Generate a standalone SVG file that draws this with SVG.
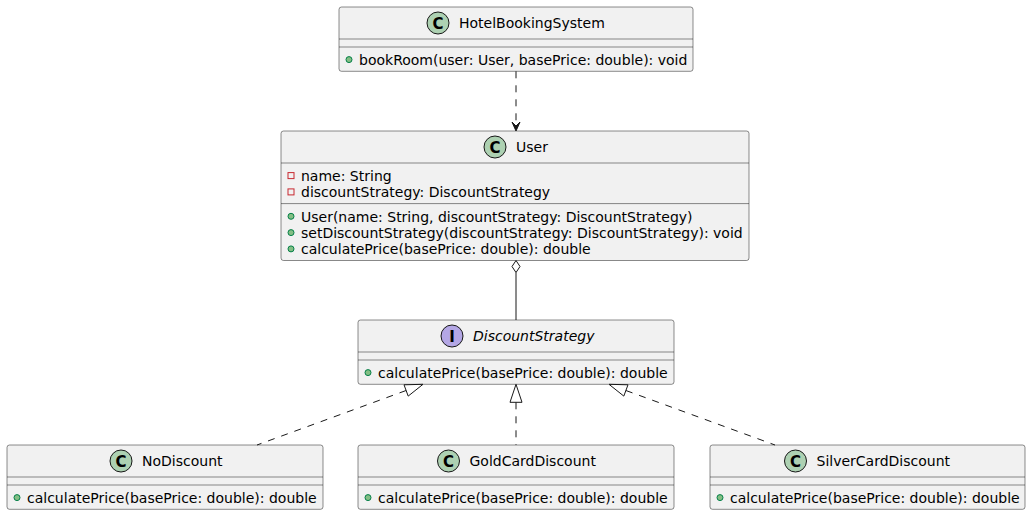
<svg xmlns="http://www.w3.org/2000/svg" width="1031" height="515" viewBox="0 0 1031 515">
<defs>
<style>
.box{fill:#F1F1F1;stroke:#181818;stroke-width:0.5}
.sep{stroke:#181818;stroke-width:0.5}
.cls{fill:#ADD1B2;stroke:#181818;stroke-width:1}
.ifc{fill:#B4A7E5;stroke:#181818;stroke-width:1}
.glyph{font-family:"DejaVu Sans",sans-serif;font-size:15px;font-weight:bold;fill:#000;text-anchor:middle}
.name{font-family:"DejaVu Sans",sans-serif;font-size:14px;fill:#000}
.it{font-style:italic}
.mem{font-family:"DejaVu Sans",sans-serif;font-size:14px;fill:#000}
.pub{fill:#84BE84;stroke:#038048;stroke-width:1}
.priv{fill:none;stroke:#C82930;stroke-width:1}
.ln{stroke:#181818;stroke-width:1;fill:none}
.dash{stroke-dasharray:7,7}
.head{fill:#181818;stroke:#181818;stroke-width:1}
.open{fill:none;stroke:#181818;stroke-width:1}
</style>
</defs>
<rect width="1031" height="515" fill="#FFFFFF"/>

<g id="HotelBookingSystem">
<rect class="box" x="339" y="7" width="354" height="64.3" rx="2.5"/>
<circle class="cls" cx="438" cy="23" r="11"/>
<text class="glyph" x="438" y="28.5">C</text>
<text class="name" x="459" y="28.2">HotelBookingSystem</text>
<line class="sep" x1="339" y1="39" x2="693" y2="39"/>
<line class="sep" x1="339" y1="47" x2="693" y2="47"/>
<circle class="pub" cx="349" cy="59.6" r="3"/>
<text class="mem" x="359" y="65">bookRoom(user: User, basePrice: double): void</text>
</g>

<g id="User">
<rect class="box" x="281" y="131" width="468" height="129.5" rx="2.5"/>
<circle class="cls" cx="495" cy="147" r="11"/>
<text class="glyph" x="495" y="152.5">C</text>
<text class="name" x="516" y="152.2">User</text>
<line class="sep" x1="281" y1="163" x2="749" y2="163"/>
<rect class="priv" x="288" y="172.6" width="6" height="6"/>
<text class="mem" x="301" y="181">name: String</text>
<rect class="priv" x="288" y="188.9" width="6" height="6"/>
<text class="mem" x="301" y="197.3">discountStrategy: DiscountStrategy</text>
<line class="sep" x1="281" y1="203.6" x2="749" y2="203.6"/>
<circle class="pub" cx="291" cy="216.3" r="3"/>
<text class="mem" x="301" y="221.6">User(name: String, discountStrategy: DiscountStrategy)</text>
<circle class="pub" cx="291" cy="232.6" r="3"/>
<text class="mem" x="301" y="237.9">setDiscountStrategy(discountStrategy: DiscountStrategy): void</text>
<circle class="pub" cx="291" cy="248.9" r="3"/>
<text class="mem" x="301" y="254.2">calculatePrice(basePrice: double): double</text>
</g>

<g id="DiscountStrategy">
<rect class="box" x="358" y="320" width="316" height="64.3" rx="2.5"/>
<circle class="ifc" cx="452" cy="336" r="11"/>
<text class="glyph" x="452" y="341.5">I</text>
<text class="name it" x="473" y="341.2">DiscountStrategy</text>
<line class="sep" x1="358" y1="352" x2="674" y2="352"/>
<line class="sep" x1="358" y1="360" x2="674" y2="360"/>
<circle class="pub" cx="368" cy="372.6" r="3"/>
<text class="mem" x="378" y="378">calculatePrice(basePrice: double): double</text>
</g>

<g id="NoDiscount">
<rect class="box" x="7" y="445" width="316" height="64.3" rx="2.5"/>
<circle class="cls" cx="121" cy="461" r="11"/>
<text class="glyph" x="121" y="466.5">C</text>
<text class="name" x="142" y="466.2">NoDiscount</text>
<line class="sep" x1="7" y1="477" x2="323" y2="477"/>
<line class="sep" x1="7" y1="485" x2="323" y2="485"/>
<circle class="pub" cx="17" cy="497.6" r="3"/>
<text class="mem" x="27" y="503">calculatePrice(basePrice: double): double</text>
</g>

<g id="GoldCardDiscount">
<rect class="box" x="358" y="445" width="316" height="64.3" rx="2.5"/>
<circle class="cls" cx="448.5" cy="461" r="11"/>
<text class="glyph" x="448.5" y="466.5">C</text>
<text class="name" x="469.5" y="466.2">GoldCardDiscount</text>
<line class="sep" x1="358" y1="477" x2="674" y2="477"/>
<line class="sep" x1="358" y1="485" x2="674" y2="485"/>
<circle class="pub" cx="368" cy="497.6" r="3"/>
<text class="mem" x="378" y="503">calculatePrice(basePrice: double): double</text>
</g>

<g id="SilverCardDiscount">
<rect class="box" x="710" y="445" width="315" height="64.3" rx="2.5"/>
<circle class="cls" cx="795.5" cy="461" r="11"/>
<text class="glyph" x="795.5" y="466.5">C</text>
<text class="name" x="816.5" y="466.2">SilverCardDiscount</text>
<line class="sep" x1="710" y1="477" x2="1025" y2="477"/>
<line class="sep" x1="710" y1="485" x2="1025" y2="485"/>
<circle class="pub" cx="720" cy="497.6" r="3"/>
<text class="mem" x="730" y="503">calculatePrice(basePrice: double): double</text>
</g>

<g id="connectors">
<line class="ln dash" x1="516" y1="71.3" x2="516" y2="125"/>
<polygon class="head" points="516,131 512,122 516,126 520,122"/>

<polygon class="open" points="516,260.5 512,266.5 516,272.5 520,266.5"/>
<line class="ln" x1="516" y1="272.5" x2="516" y2="320"/>

<polygon class="open" points="516,384.3 510,402.3 522,402.3"/>
<line class="ln dash" x1="516" y1="402.3" x2="516" y2="445"/>

<polygon class="open" points="423,384.3 404,384.8 408.2,396.1"/>
<line class="ln dash" x1="406.1" y1="390.5" x2="257" y2="445"/>

<polygon class="open" points="609,384.3 628,384.8 623.8,396.1"/>
<line class="ln dash" x1="625.9" y1="390.5" x2="775" y2="445"/>
</g>
</svg>
